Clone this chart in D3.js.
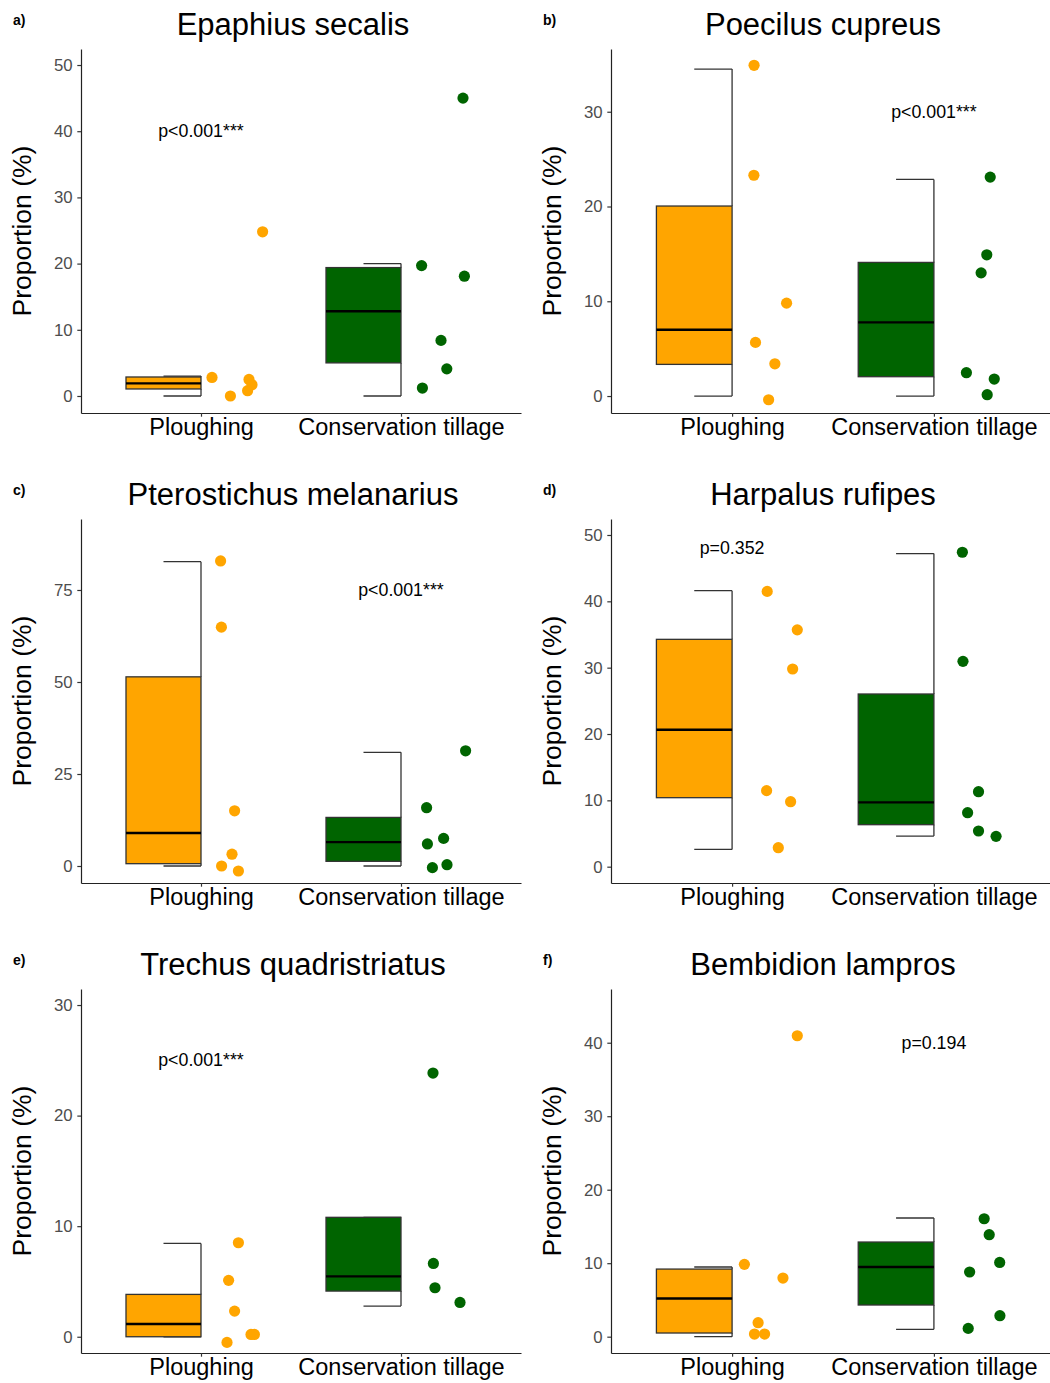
<!DOCTYPE html>
<html>
<head>
<meta charset="utf-8">
<script src="https://cdn.jsdelivr.net/npm/d3@7"></script>
<style>
body{margin:0;background:#fff;}
svg text{font-family:"Liberation Sans",Arial,sans-serif;}
</style>
</head>
<body>
<svg id="chart" width="1050" height="1383"></svg>
<script>
// one entry per panel, a) to f)
var panelLabels = ["a)","b)","c)","d)","e)","f)"];
var species = ["Epaphius secalis","Poecilus cupreus","Pterostichus melanarius",
	"Harpalus rufipes","Trechus quadristriatus","Bembidion lampros"];
var treatments = ["Ploughing","Conservation tillage"];
var treatColors = ["#FFA500","#006400"];

var yTicks = [[0,10,20,30,40,50],[0,10,20,30],[0,25,50,75],
	[0,10,20,30,40,50],[0,10,20,30],[0,10,20,30,40]];
var yDomains = [[-2.57,52.42],[-1.79,36.62],[-4.62,94.29],
	[-2.46,52.41],[-1.47,31.45],[-2.22,47.31]];

var pTexts = ["p<0.001***","p<0.001***","p<0.001***","p=0.352","p<0.001***","p=0.194"];
var pPos = [[1,40],[2,30],[2,75],[1,48],[1,25],[2,40]]; // [treatment no., y]

// box stats: [lower whisker, q1, median, q3, upper whisker]
var ploughBox = [[0,1.06,1.9,2.87,3.0],[0,3.34,7.0,20.05,34.5],[0,0.63,8.97,51.4,82.7],
	[2.6,10.4,20.65,34.27,41.6],[0,0,1.15,3.83,8.44],[0,0.5,5.2,9.2,9.48]];
var consBox = [[0,5.0,12.8,19.4,20.0],[0,2.04,7.77,14.1,22.86],[0,1.27,6.5,13.2,30.9],
	[4.62,6.33,9.7,26.03,47.2],[2.77,4.13,5.46,10.8,10.8],[1.0,4.31,9.48,12.88,16.15]];

// plots: [jitter offset from the treatment, proportion %]
var ploughPts = [
	[[0.055,2.8],[0.147,0],[0.24,2.5],[0.255,1.7],[0.233,0.8],[0.308,24.8]],
	[[0.109,34.9],[0.108,23.3],[0.27,9.8],[0.116,5.66],[0.212,3.4],[0.181,-0.39]],
	[[0.098,82.9],[0.102,64.9],[0.168,15.0],[0.155,3.2],[0.103,0],[0.187,-1.36]],
	[[0.174,41.5],[0.323,35.7],[0.30,29.8],[0.171,11.46],[0.29,9.8],[0.229,2.86]],
	[[0.187,8.5],[0.138,5.1],[0.168,2.32],[0.13,-0.51],[0.25,0.21],[0.267,0.21]],
	[[0.061,9.84],[0.252,7.98],[0.323,40.95],[0.129,1.9],[0.111,0.36],[0.161,0.36]]
];
var consPts = [
	[[0.103,19.7],[0.317,18.1],[0.2,8.4],[0.229,4.1],[0.107,1.2],[0.31,45.0]],
	[[0.279,23.1],[0.262,14.9],[0.234,13.0],[0.161,2.46],[0.299,1.79],[0.264,0.14]],
	[[0.323,31.3],[0.128,15.85],[0.132,6.0],[0.213,7.5],[0.157,-0.45],[0.23,0.36]],
	[[0.141,47.4],[0.144,30.95],[0.221,11.3],[0.167,8.14],[0.221,5.38],[0.308,4.57]],
	[[0.16,23.85],[0.162,6.63],[0.17,4.43],[0.295,3.1]],
	[[0.249,16.05],[0.274,13.88],[0.326,10.1],[0.177,8.8],[0.327,2.86],[0.17,1.13]]
];

var svg = d3.select("#chart");
var BOXW = 0.375; // half of ggplot's 0.75

function drawPanel(i){
	var col = i % 2, row = Math.floor(i / 2);
	var x0 = col * 530, y0 = row * 470;
	var left = x0 + 81, width = col ? 444 : 440;
	var top = y0 + 49, bottom = y0 + 413;

	var x = d3.scaleLinear().domain([0.4,2.6]).range([left,left+width]);
	var y = d3.scaleLinear().domain(yDomains[i]).range([bottom,top]);
	var g = svg.append("g");

	// panel letter + title
	g.append("text").attr("x",x0+13).attr("y",y0+25)
		.attr("font-size",14).attr("font-weight","bold").text(panelLabels[i]);
	g.append("text").attr("x",left+212).attr("y",y0+34.5)
		.attr("text-anchor","middle").attr("font-size",31).attr("fill","#000")
		.text(species[i]);

	// axes
	var ya = g.append("g").attr("transform","translate("+left+",0)")
		.call(d3.axisLeft(y).tickValues(yTicks[i]).tickSizeInner(3.7).tickSizeOuter(0).tickPadding(4.6));
	ya.selectAll("text").attr("font-size",16.8).attr("fill","#4D4D4D")
		.attr("font-family","Liberation Sans, Arial, sans-serif");
	var xa = g.append("g").attr("transform","translate(0,"+bottom+")")
		.call(d3.axisBottom(x).tickValues([1,2]).tickFormat(function(d){return treatments[d-1];})
			.tickSizeInner(3.7).tickSizeOuter(0).tickPadding(2));
	xa.selectAll("text").attr("font-size",23.5).attr("fill","#000")
		.attr("font-family","Liberation Sans, Arial, sans-serif");
	[ya,xa].forEach(function(a){
		a.select(".domain").attr("stroke","#222").attr("stroke-width",1.2);
		a.selectAll(".tick line").attr("stroke","#333").attr("stroke-width",1.2);
	});

	g.append("text")
		.attr("transform","translate("+(left-50)+","+((top+bottom)/2)+") rotate(-90)")
		.attr("text-anchor","middle").attr("font-size",26.5).attr("fill","#000")
		.text("Proportion (%)");

	// half boxplots, whisker drawn as a bracket on the right edge
	[ploughBox[i],consBox[i]].forEach(function(s,k){
		var c = k + 1;
		var wg = g.append("g").attr("stroke","#333").attr("stroke-width",1.3).attr("fill","none");
		wg.append("line").attr("x1",x(c)).attr("x2",x(c)).attr("y1",y(s[3])).attr("y2",y(s[4]));
		wg.append("line").attr("x1",x(c)).attr("x2",x(c)).attr("y1",y(s[1])).attr("y2",y(s[0]));
		wg.append("line").attr("x1",x(c-BOXW/2)).attr("x2",x(c)).attr("y1",y(s[4])).attr("y2",y(s[4]));
		wg.append("line").attr("x1",x(c-BOXW/2)).attr("x2",x(c)).attr("y1",y(s[0])).attr("y2",y(s[0]));
		g.append("rect").attr("x",x(c-BOXW)).attr("width",x(c)-x(c-BOXW))
			.attr("y",y(s[3])).attr("height",y(s[1])-y(s[3]))
			.attr("fill",treatColors[k]).attr("stroke","#333").attr("stroke-width",1.3);
		g.append("line").attr("x1",x(c-BOXW)).attr("x2",x(c))
			.attr("y1",y(s[2])).attr("y2",y(s[2]))
			.attr("stroke","#000").attr("stroke-width",2.4);
	});

	// jittered points
	[ploughPts[i],consPts[i]].forEach(function(pts,k){
		g.selectAll(null).data(pts).enter().append("circle")
			.attr("cx",function(d){return x(k+1+d[0]);})
			.attr("cy",function(d){return y(d[1]);})
			.attr("r",5.6).attr("fill",treatColors[k]);
	});

	g.append("text").attr("x",x(pPos[i][0])).attr("y",y(pPos[i][1]))
		.attr("text-anchor","middle").attr("dominant-baseline","central")
		.attr("font-size",17.8).attr("fill","#000").text(pTexts[i]);
}

for(var i=0;i<species.length;i++){
	drawPanel(i);
}
</script>
</body>
</html>
